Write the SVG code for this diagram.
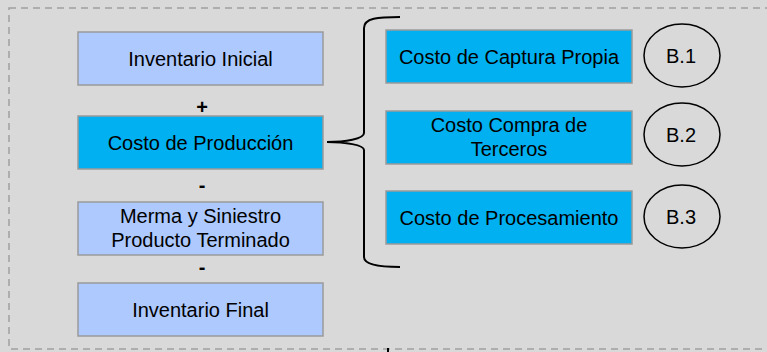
<svg xmlns="http://www.w3.org/2000/svg" width="767" height="352" viewBox="0 0 767 352">
<style>
text{font-family:"Liberation Sans",Arial,sans-serif;font-size:20px;fill:#000;text-anchor:middle}
.light{fill:#adc9fd;stroke:#9a9a9a;stroke-width:1.5}
.cyan{fill:#00b0f0;stroke:#9a9a9a;stroke-width:1.5}
.op{font-weight:bold}
.ell{fill:none;stroke:#000;stroke-width:1.5}
</style>
<rect width="767" height="352" fill="#d9d9d9"/>
<rect x="9" y="8" width="800" height="341" fill="none" stroke="#a0a0a0" stroke-width="1.5" stroke-dasharray="7 5"/>
<line x1="388" y1="348" x2="388" y2="352" stroke="#000" stroke-width="2"/>

<g id="n-inv-inicial"><rect class="light" x="78" y="32" width="245" height="53"/><text x="200.5" y="65.5">Inventario Inicial</text></g>
<g id="op-plus"><text class="op" x="202" y="113.5">+</text></g>
<g id="n-costo-prod"><rect class="cyan" x="78" y="116" width="245" height="53"/><text x="200.5" y="149.5">Costo de Producción</text></g>
<g id="op-minus1"><text class="op" x="202" y="192">-</text></g>
<g id="n-merma"><rect class="light" x="78" y="202" width="245" height="53"/><text x="200.5" y="223">Merma y Siniestro</text><text x="200.5" y="247">Producto Terminado</text></g>
<g id="op-minus2"><text class="op" x="202" y="274">-</text></g>
<g id="n-inv-final"><rect class="light" x="78" y="283" width="245" height="53"/><text x="200.5" y="316.5">Inventario Final</text></g>

<g id="n-captura"><rect class="cyan" x="386" y="30" width="246" height="53"/><text x="509" y="63.5">Costo de Captura Propia</text></g>
<g id="n-compra"><rect class="cyan" x="386" y="111" width="246" height="53"/><text x="509" y="132">Costo Compra de</text><text x="509" y="156">Terceros</text></g>
<g id="n-proc"><rect class="cyan" x="386" y="191" width="246" height="53"/><text x="509" y="224.5">Costo de Procesamiento</text></g>

<g id="b1"><ellipse class="ell" cx="682" cy="55.5" rx="38" ry="31.5"/><text x="681" y="62.5">B.1</text></g>
<g id="b2"><ellipse class="ell" cx="682" cy="134.5" rx="38" ry="31.5"/><text x="681" y="141.5">B.2</text></g>
<g id="b3"><ellipse class="ell" cx="682" cy="216.5" rx="38" ry="31.5"/><text x="681" y="223.5">B.3</text></g>

<g id="connectors">
<path d="M400,17 C378,17 364,18 364,28 L364,133 C364,139 345,142 327,142 C345,142 364,145 364,150 L364,257 C364,265 380,267 400,267" fill="none" stroke="#000" stroke-width="2"/>
</g>
</svg>
